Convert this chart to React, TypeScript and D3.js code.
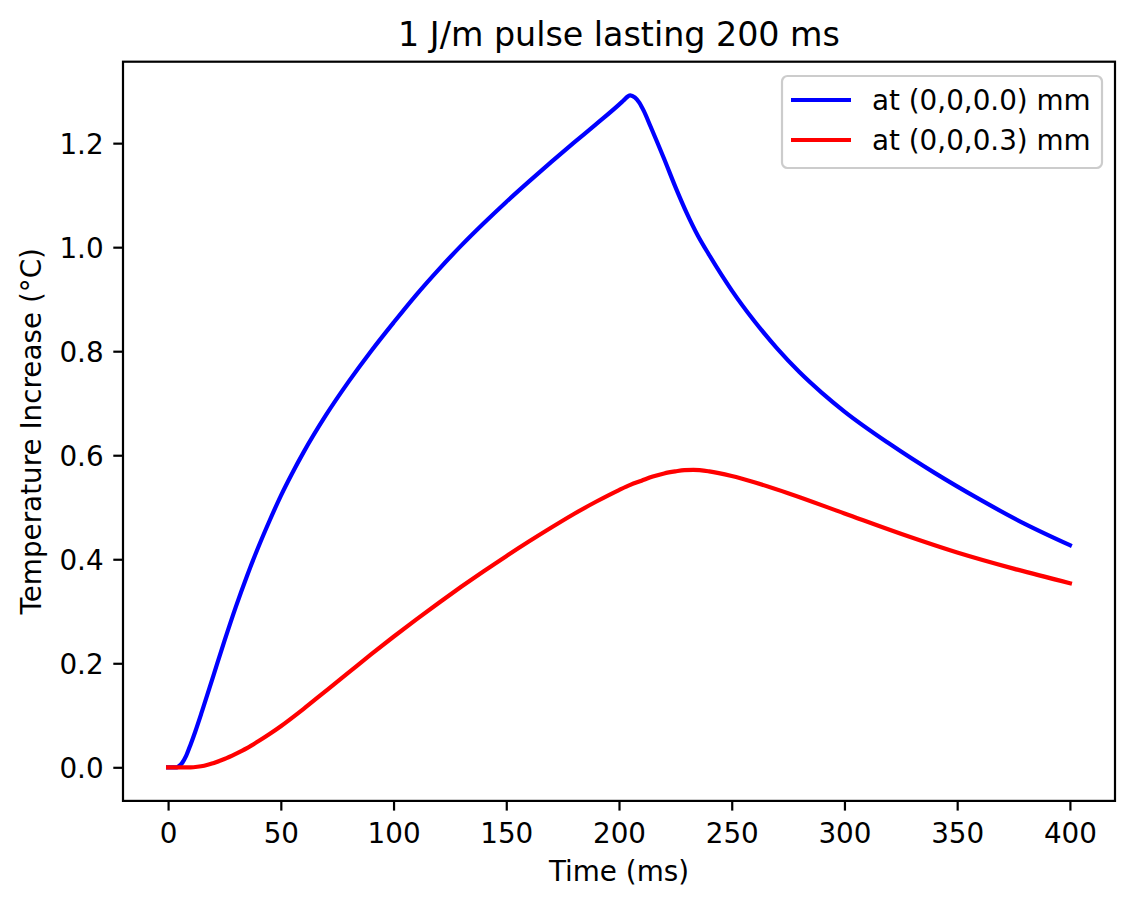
import { useEffect, useRef } from "react";
import * as d3 from "d3";

// time (ms) and temperature rise (°C) at the surface point
const timeSurface = [0, 4, 5, 6, 8, 10, 12, 15, 20, 25, 30, 35, 40, 45, 50, 55, 60, 70, 80, 90, 100, 110, 120, 130, 140, 150, 160, 170, 180, 190, 200, 202, 204, 205, 207, 209, 211, 214, 220, 225, 230, 235, 240, 250, 260, 270, 280, 290, 300, 320, 340, 360, 380, 400];
const tempSurface = [0, 0, 0.003, 0.007, 0.022, 0.044, 0.068, 0.107, 0.175, 0.243, 0.308, 0.368, 0.423, 0.474, 0.522, 0.565, 0.605, 0.677, 0.741, 0.8, 0.855, 0.908, 0.957, 1.003, 1.046, 1.087, 1.126, 1.164, 1.201, 1.237, 1.274, 1.282, 1.29, 1.292, 1.288, 1.278, 1.262, 1.232, 1.17, 1.116, 1.066, 1.022, 0.985, 0.917, 0.858, 0.806, 0.76, 0.72, 0.684, 0.622, 0.566, 0.515, 0.468, 0.427];

// time (ms) and temperature rise (°C) 0.3 mm below
const timeDeep = [0, 10, 13, 16, 20, 25, 30, 35, 40, 45, 50, 60, 70, 80, 90, 100, 110, 120, 130, 140, 150, 160, 170, 180, 190, 200, 205, 210, 215, 220, 225, 229, 233, 240, 250, 260, 275, 300, 325, 350, 375, 400];
const tempDeep = [0, 0, 0.001, 0.003, 0.008, 0.016, 0.026, 0.037, 0.05, 0.064, 0.079, 0.112, 0.147, 0.182, 0.217, 0.251, 0.284, 0.316, 0.347, 0.377, 0.406, 0.434, 0.461, 0.487, 0.511, 0.533, 0.543, 0.551, 0.559, 0.565, 0.569, 0.5715, 0.572, 0.569, 0.56, 0.548, 0.527, 0.488, 0.449, 0.413, 0.382, 0.354];

const xTicks = [0, 50, 100, 150, 200, 250, 300, 350, 400];
const yTicks = [0.0, 0.2, 0.4, 0.6, 0.8, 1.0, 1.2];

const seriesLabels = ["at (0,0,0.0) mm", "at (0,0,0.3) mm"];
const seriesColors = ["#0000ff", "#ff0000"];

export default function App() {
  const svgRef = useRef<SVGSVGElement>(null);
  const width = 1134;
  const height = 908;

  useEffect(() => {
    if (!svgRef.current) return;
    const svg = d3.select(svgRef.current);
    svg.selectAll("*").remove();

    const left = 123, right = 1115, top = 61.7, bottom = 800.9;
    const font = "DejaVu Sans, sans-serif";

    const series = [
      d3.zip(timeSurface, tempSurface),
      d3.zip(timeDeep, tempDeep),
    ] as [number, number][][];

    // matplotlib-style 5% margins
    const xmin = 0, xmax = 400;
    const xpad = (xmax - xmin) * 0.05;
    const ymin = 0, ymax = d3.max(tempSurface)!;
    const ypad = (ymax - ymin) * 0.05;

    const x = d3.scaleLinear([xmin - xpad, xmax + xpad], [left, right]);
    const y = d3.scaleLinear([ymin - ypad, ymax + ypad], [bottom, top]);

    const line = d3.line<[number, number]>()
      .x(d => x(d[0]))
      .y(d => y(d[1]))
      .curve(d3.curveMonotoneX);

    const plot = svg.append("g");
    plot.selectAll("path.series")
      .data(series)
      .join("path")
      .attr("class", "series")
      .attr("fill", "none")
      .attr("stroke", (_, i) => seriesColors[i])
      .attr("stroke-width", 4.2)
      .attr("stroke-linejoin", "round")
      .attr("stroke-linecap", "square")
      .attr("d", d => line(d));

    // frame
    svg.append("rect")
      .attr("x", left).attr("y", top)
      .attr("width", right - left).attr("height", bottom - top)
      .attr("fill", "none").attr("stroke", "black").attr("stroke-width", 2.2);

    // x axis
    const xAxis = svg.append("g")
      .attr("transform", `translate(0,${bottom})`)
      .call(d3.axisBottom(x).tickValues(xTicks).tickSize(9.7).tickPadding(9.7).tickFormat(d3.format("d")));
    xAxis.select(".domain").remove();
    xAxis.selectAll(".tick line").attr("stroke-width", 2.2);
    xAxis.selectAll(".tick text")
      .attr("font-family", font).attr("font-size", 27.8).attr("fill", "black")
      .attr("dy", null).attr("y", 42);

    // y axis
    const yAxis = svg.append("g")
      .attr("transform", `translate(${left},0)`)
      .call(d3.axisLeft(y).tickValues(yTicks).tickSize(9.7).tickPadding(9.7).tickFormat(d3.format(".1f")));
    yAxis.select(".domain").remove();
    yAxis.selectAll(".tick line").attr("stroke-width", 2.2);
    yAxis.selectAll(".tick text")
      .attr("font-family", font).attr("font-size", 27.8).attr("fill", "black")
      .attr("dy", "0.36em");

    svg.append("text")
      .attr("x", (left + right) / 2).attr("y", 881)
      .attr("text-anchor", "middle")
      .attr("font-family", font).attr("font-size", 27.8)
      .text("Time (ms)");

    svg.append("text")
      .attr("transform", `translate(41,${(top + bottom) / 2}) rotate(-90)`)
      .attr("text-anchor", "middle")
      .attr("font-family", font).attr("font-size", 27.8)
      .text("Temperature Increase (°C)");

    svg.append("text")
      .attr("x", (left + right) / 2).attr("y", 46)
      .attr("text-anchor", "middle")
      .attr("font-family", font).attr("font-size", 33.3)
      .text("1 J/m pulse lasting 200 ms");

    // legend
    const legend = svg.append("g");
    legend.append("rect")
      .attr("x", 782).attr("y", 76)
      .attr("width", 320).attr("height", 92)
      .attr("rx", 5.5)
      .attr("fill", "white").attr("fill-opacity", 0.8)
      .attr("stroke", "#cccccc").attr("stroke-width", 2.2);
    seriesLabels.forEach((label, i) => {
      const cy = 100 + i * 40;
      legend.append("line")
        .attr("x1", 791).attr("x2", 851)
        .attr("y1", cy).attr("y2", cy)
        .attr("stroke", seriesColors[i]).attr("stroke-width", 4.2);
      legend.append("text")
        .attr("x", 872).attr("y", cy)
        .attr("dy", "0.36em")
        .attr("font-family", font).attr("font-size", 27.8)
        .text(label);
    });
  }, []);

  return (
    <svg
      ref={svgRef}
      width={width}
      height={height}
      viewBox={`0 0 ${width} ${height}`}
      style={{ position: "absolute", left: 0, top: 0, background: "white" }}
    />
  );
}
